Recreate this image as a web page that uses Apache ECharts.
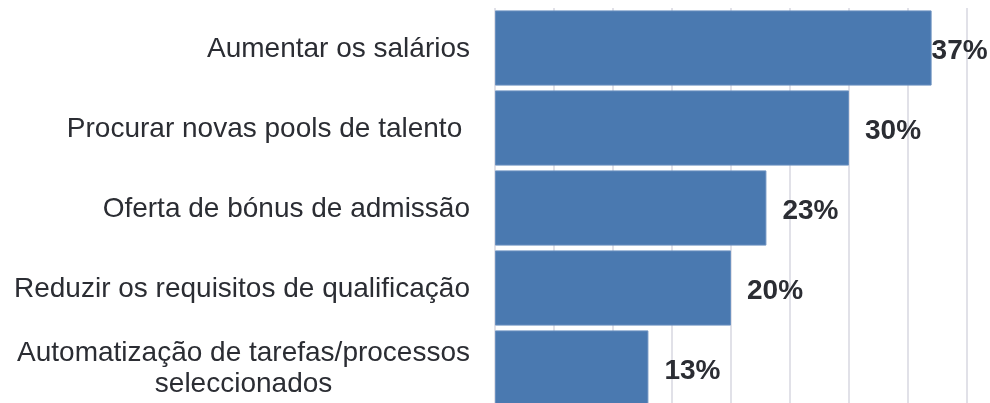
<!DOCTYPE html>
<html>
<head>
<meta charset="utf-8">
<title>Medidas</title>
<script src="https://cdn.jsdelivr.net/npm/echarts@6/dist/echarts.min.js"></script>
<style>
  html, body { margin: 0; padding: 0; background: #fff; overflow: hidden; }
  /* last bar is cut by the bottom of the picture, so the chart runs a bit past it */
  #chart { width: 990px; height: 408px; }
</style>
</head>
<body>
<div id="chart"></div>
<script>
// categories top to bottom
const categories = [
  'Aumentar os salários',
  'Procurar novas pools de talento ',
  'Oferta de bónus de admissão',
  'Reduzir os requisitos de qualificação',
  'Automatização de tarefas/processos\nseleccionados'
]
const values = [37, 30, 23, 20, 13]
const axisMin = 0
const axisMax = 40
const axisStep = 5

const font = 'Liberation Sans, Arial, sans-serif'
const textColor = '#2b2d33'

const chart = echarts.init(document.getElementById('chart'))

// the longest bar's label sits right at the bar end
const barData = values.map((v, i) => (i === 0 ? { value: v, label: { distance: 0 } } : v))

chart.setOption({
  animation: false,
  grid: { left: 495, right: 23, top: 8, bottom: 0, containLabel: false },
  xAxis: {
    type: 'value',
    min: axisMin,
    max: axisMax,
    interval: axisStep,
    axisLabel: { show: false },
    axisLine: { show: false },
    axisTick: { show: false },
    splitLine: { lineStyle: { color: '#d7d7e0', width: 1.5 } }
  },
  yAxis: {
    type: 'category',
    inverse: true,
    data: categories,
    axisLine: { show: false },
    axisTick: { show: false },
    axisLabel: {
      margin: 25,
      color: textColor,
      fontFamily: font,
      fontSize: 28,
      padding: [2, 0, 0, 0],
      formatter: (val) => val.split('\n').map(line => '{c|' + line + '}').join('\n'),
      rich: {
        c: { align: 'center', color: textColor, fontFamily: font, fontSize: 28, lineHeight: 31 }
      }
    }
  },
  series: [{
    type: 'bar',
    data: barData,
    barCategoryGap: '6%',
    itemStyle: { color: '#4a79b0', borderColor: '#6b91c0', borderWidth: 1 },
    label: {
      show: true,
      position: 'right',
      distance: 16,
      offset: [0, 3],
      formatter: '{c}%',
      color: textColor,
      fontFamily: font,
      fontWeight: 'bold',
      fontSize: 28
    }
  }]
})
</script>
</body>
</html>
